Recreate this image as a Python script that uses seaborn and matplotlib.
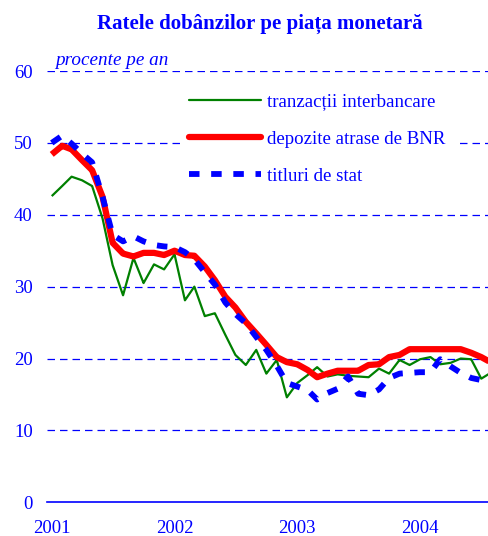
import matplotlib
matplotlib.use('Agg')
import matplotlib.pyplot as plt
import matplotlib.dates as mdates
import matplotlib.transforms as mtransforms
from matplotlib.lines import Line2D
from matplotlib.patches import Rectangle
import pandas as pd
import seaborn as sns

# monthly values, Jan 2001 - Aug 2004 (percent per year)
interbank = [42.6, 44.0, 45.3, 44.8, 44.0, 39.5, 33.0, 28.8, 34.0, 30.5, 33.1, 32.4,
             34.5, 28.1, 30.0, 25.9, 26.3, 23.3, 20.5, 19.1, 21.2, 17.9, 19.8, 14.6,
             16.6, 17.7, 18.8, 17.5, 17.8, 17.6, 17.5, 17.4, 18.6, 17.9, 19.8, 19.1,
             19.9, 20.2, 19.2, 19.4, 20.0, 19.9, 17.2, 18.1]
deposits = [48.4, 49.6, 49.1, 47.6, 46.2, 42.5, 36.1, 34.6, 34.2, 34.7, 34.7, 34.4,
            35.0, 34.4, 34.3, 32.8, 30.9, 28.6, 27.1, 25.1, 23.5, 21.9, 20.2, 19.5,
            19.2, 18.4, 17.4, 17.9, 18.3, 18.3, 18.3, 19.1, 19.2, 20.2, 20.5, 21.3,
            21.3, 21.3, 21.3, 21.3, 21.3, 20.8, 20.2, 19.4]
tbills = [50.0, 51.0, 49.9, 48.5, 47.3, 42.5, 37.2, 36.3, 37.0, 36.3, 35.8, 35.6,
          35.5, 34.8, 33.8, 32.0, 30.3, 27.8, 26.2, 24.9, 23.0, 21.2, 19.0, 16.6,
          16.1, 15.6, 14.3, 15.2, 15.8, 17.5, 15.1, 14.9, 15.7, 17.3, 17.9, 18.0,
          18.1, 18.1, 19.9, 18.9, 18.0, 17.3, 17.0, 17.4]
labels = ['tranzacții interbancare', 'depozite atrase de BNR', 'titluri de stat']

months = pd.date_range('2001-01-01', periods=len(deposits), freq='MS') + pd.Timedelta(days=15)
df = pd.DataFrame({'luna': list(months) * 3,
                   'rata': interbank + deposits + tbills,
                   'serie': [labels[0]] * 44 + [labels[1]] * 44 + [labels[2]] * 44})

sns.set_style('white')
plt.rcParams['font.family'] = ['Liberation Serif', 'DejaVu Serif']
blue = '#0000ff'

fig = plt.figure(figsize=(4.89, 5.36), dpi=100)
ax = fig.add_axes([0.0955, 0.0629, 0.9045, 0.8046])

for y in [10, 20, 30, 40, 50, 60]:
    ax.axhline(y, color=blue, lw=0.9, dashes=(6, 4), zorder=0)
# white box behind the legend hides the middle of the 50 gridline
ax.add_patch(Rectangle((0.313, 0.80), 0.62, 0.06, transform=ax.transAxes,
                       facecolor='white', edgecolor='none', zorder=0.5))

sns.lineplot(data=df, x='luna', y='rata', hue='serie', style='serie',
             palette=['#008000', '#ff0000', '#0000ff'],
             size='serie', sizes=[1.6, 4.5, 4.2],
             dashes=[(1, 0), (1, 0), (1.8, 2.0)], ax=ax, legend=False)
ax.get_lines()[-1].set_dash_capstyle('butt')

ax.set_xlim(pd.Timestamp('2001-01-01'), pd.Timestamp('2004-08-08'))
ax.set_ylim(0, 60)
ax.xaxis.set_major_locator(mdates.YearLocator())
ax.xaxis.set_major_formatter(mdates.DateFormatter('%Y'))
ax.set_yticks([0, 10, 20, 30, 40, 50, 60])
ax.tick_params(axis='x', colors=blue, labelsize=13.5, length=5, width=1, direction='out', pad=8)
ax.tick_params(axis='y', colors=blue, labelsize=13.5, length=0, pad=10)
ax.set_xlabel('')
ax.set_ylabel('')
for s in ['top', 'right', 'left']:
    ax.spines[s].set_visible(False)
ax.spines['bottom'].set_color(blue)
ax.spines['bottom'].set_linewidth(1.2)
shift = mtransforms.ScaledTranslation(5 / 100, 0, fig.dpi_scale_trans)
for lab in ax.get_xticklabels():
    lab.set_transform(lab.get_transform() + shift)

handles = [Line2D([], [], color='#008000', lw=1.6),
           Line2D([], [], color='#ff0000', lw=4.5, solid_capstyle='round'),
           Line2D([], [], color='#0000ff', lw=4.2, dashes=(1.8, 2.0), dash_capstyle='butt')]
leg = ax.legend(handles, labels, loc='upper left', bbox_to_anchor=(0.314, 0.957),
                frameon=False, fontsize=13.6, handlelength=3.8, handletextpad=0.3,
                labelspacing=1.05, borderaxespad=0, borderpad=0.2)
for t in leg.get_texts():
    t.set_color(blue)

ax.text(0.02, 1.005, 'procente pe an', transform=ax.transAxes, color=blue,
        fontsize=13.8, style='italic', ha='left', va='bottom')
fig.text(0.532, 0.955, 'Ratele dobânzilor pe piața monetară', color=blue,
         fontsize=15, fontweight='bold', ha='center', va='center')

fig.savefig('out.png', dpi=100)
